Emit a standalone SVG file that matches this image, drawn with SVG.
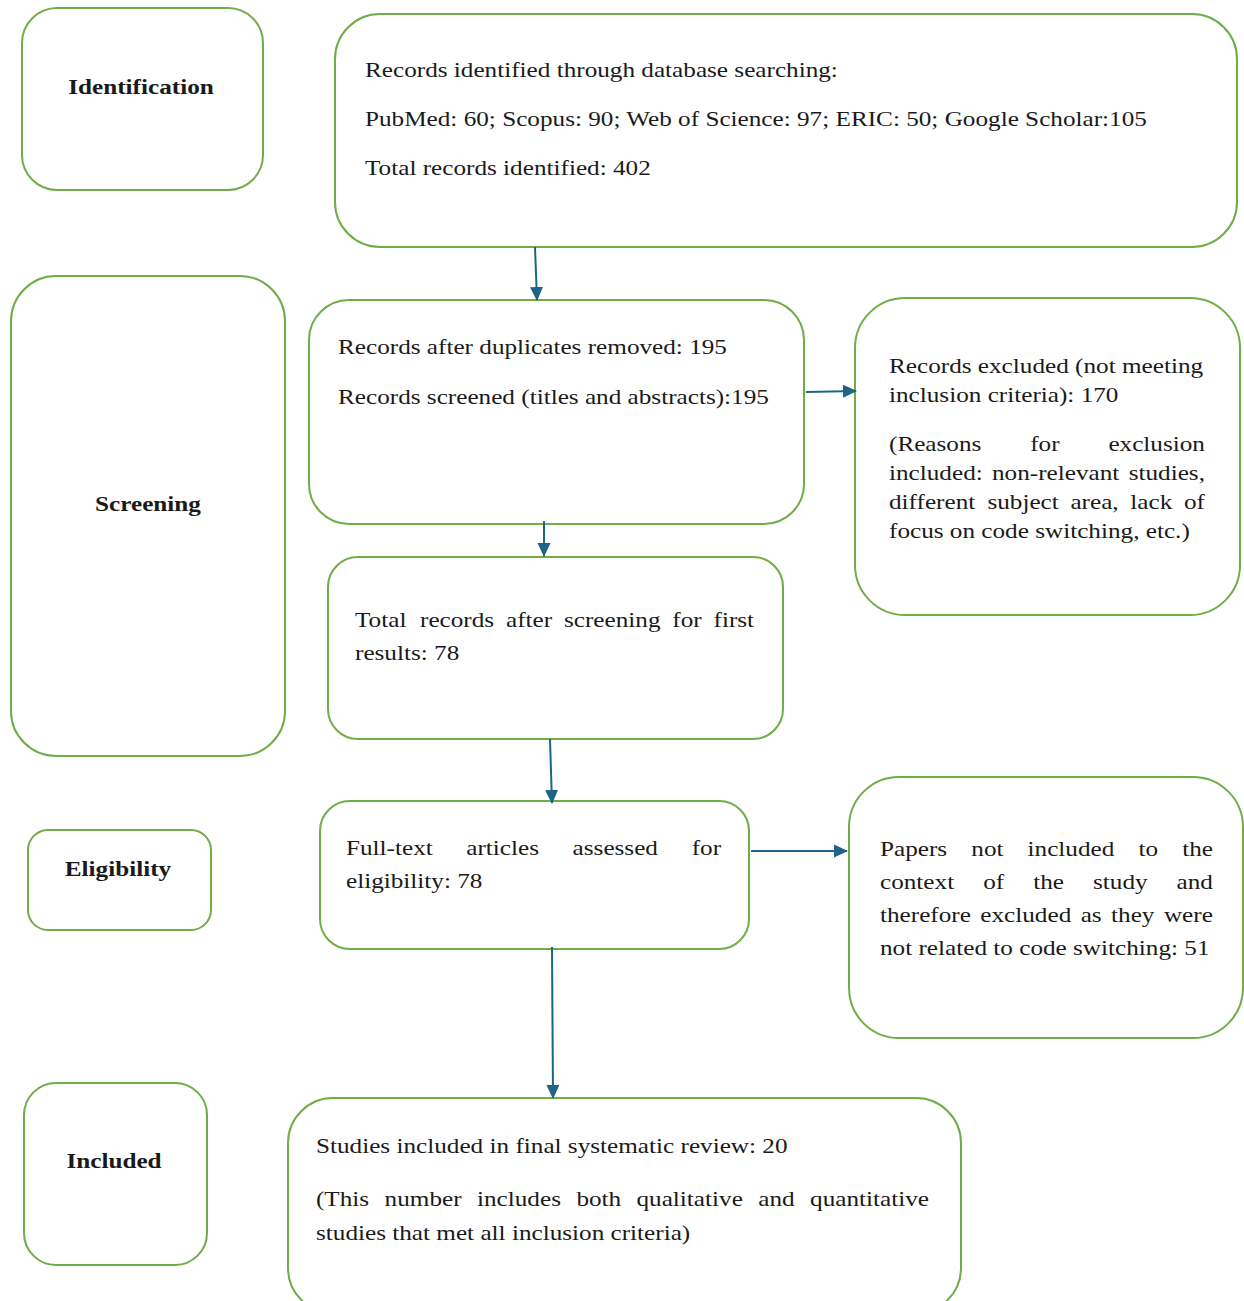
<svg xmlns="http://www.w3.org/2000/svg" width="1244" height="1301" viewBox="0 0 1244 1301">
<style>
.box{fill:#fff;stroke:#70ad47;stroke-width:2}
.t{font-family:"Liberation Serif","Times New Roman",serif;font-size:21px;fill:#1a1a1a}
.b{font-weight:bold;text-anchor:middle}
.c{fill:none;stroke:#1f6389;stroke-width:2}
</style>
<defs>
<marker id="ah" markerUnits="userSpaceOnUse" markerWidth="14" markerHeight="14" refX="13" refY="7" orient="auto">
<path d="M0,0.5 L14,7 L0,13.5 z" fill="#1f6389"/>
</marker>
</defs>
<rect width="1244" height="1301" fill="#fff"/>

<g id="stage-identification">
<rect class="box" x="22" y="8" width="241" height="182" rx="35"/>
<text class="t b" transform="scale(1.2,1)" x="117.5" y="94">Identification</text>
</g>
<g id="stage-screening">
<rect class="box" x="11" y="276" width="274" height="480" rx="45"/>
<text class="t b" transform="scale(1.2,1)" x="123.33" y="511">Screening</text>
</g>
<g id="stage-eligibility">
<rect class="box" x="28" y="830" width="183" height="100" rx="20"/>
<text class="t b" transform="scale(1.2,1)" x="98.33" y="876">Eligibility</text>
</g>
<g id="stage-included">
<rect class="box" x="24" y="1083" width="183" height="182" rx="32"/>
<text class="t b" transform="scale(1.2,1)" x="95" y="1168">Included</text>
</g>

<g id="identified">
<rect class="box" x="335" y="14" width="902" height="233" rx="45"/>
<text class="t" transform="scale(1.2,1)">
<tspan x="304.17" y="77">Records identified through database searching:</tspan>
<tspan x="304.17" y="126">PubMed: 60; Scopus: 90; Web of Science: 97; ERIC: 50; Google Scholar:105</tspan>
<tspan x="304.17" y="175">Total records identified: 402</tspan>
</text>
</g>

<g id="screened">
<rect class="box" x="309" y="300" width="495" height="224" rx="40"/>
<text class="t" transform="scale(1.2,1)">
<tspan x="281.67" y="354">Records after duplicates removed: 195</tspan>
<tspan x="281.67" y="404">Records screened (titles and abstracts):195</tspan>
</text>
</g>

<g id="excluded">
<rect class="box" x="855" y="298" width="385" height="317" rx="50"/>
<text class="t" transform="scale(1.2,1)">
<tspan x="740.83" y="373">Records excluded (not meeting</tspan>
<tspan x="740.83" y="402">inclusion criteria): 170</tspan>
<tspan x="740.83" y="451">(Reasons</tspan><tspan x="858.5" y="451">for</tspan><tspan x="923.67" y="451">exclusion</tspan>
<tspan x="740.83" y="480">included:</tspan><tspan x="826.67" y="480">non-relevant</tspan><tspan x="940.58" y="480">studies,</tspan>
<tspan x="740.83" y="509">different</tspan><tspan x="822.83" y="509">subject</tspan><tspan x="892" y="509">area,</tspan><tspan x="941.92" y="509">lack</tspan><tspan x="986.58" y="509">of</tspan>
<tspan x="740.83" y="538">focus on code switching, etc.)</tspan>
</text>
</g>

<g id="after-screening">
<rect class="box" x="328" y="557" width="455" height="182" rx="30"/>
<text class="t" transform="scale(1.2,1)">
<tspan x="295.83" y="627">Total</tspan><tspan x="350" y="627">records</tspan><tspan x="421.67" y="627">after</tspan><tspan x="470" y="627">screening</tspan><tspan x="560.25" y="627">for</tspan><tspan x="594.58" y="627">first</tspan>
<tspan x="295.83" y="660">results: 78</tspan>
</text>
</g>

<g id="full-text">
<rect class="box" x="320" y="801" width="429" height="148" rx="30"/>
<text class="t" transform="scale(1.2,1)">
<tspan x="288.33" y="855">Full-text</tspan><tspan x="388.58" y="855">articles</tspan><tspan x="477.17" y="855">assessed</tspan><tspan x="576.42" y="855">for</tspan>
<tspan x="288.33" y="888">eligibility: 78</tspan>
</text>
</g>

<g id="not-included">
<rect class="box" x="849" y="777" width="394" height="261" rx="50"/>
<text class="t" transform="scale(1.2,1)">
<tspan x="733.33" y="856">Papers</tspan><tspan x="809.42" y="856">not</tspan><tspan x="856.33" y="856">included</tspan><tspan x="948.75" y="856">to</tspan><tspan x="985.17" y="856">the</tspan>
<tspan x="733.33" y="889">context</tspan><tspan x="819.33" y="889">of</tspan><tspan x="861" y="889">the</tspan><tspan x="910.83" y="889">study</tspan><tspan x="980.5" y="889">and</tspan>
<tspan x="733.33" y="922">therefore</tspan><tspan x="816.92" y="922">excluded</tspan><tspan x="900.58" y="922">as</tspan><tspan x="925.92" y="922">they</tspan><tspan x="969.92" y="922">were</tspan>
<tspan x="733.33" y="955">not related to code switching: 51</tspan>
</text>
</g>

<g id="final">
<rect class="box" x="288" y="1098" width="673" height="215" rx="45"/>
<text class="t" transform="scale(1.2,1)">
<tspan x="263.33" y="1153">Studies included in final systematic review: 20</tspan>
<tspan x="263.33" y="1206">(This</tspan><tspan x="320.5" y="1206">number</tspan><tspan x="397.5" y="1206">includes</tspan><tspan x="480.33" y="1206">both</tspan><tspan x="530.42" y="1206">qualitative</tspan><tspan x="631.92" y="1206">and</tspan><tspan x="675.08" y="1206">quantitative</tspan>
<tspan x="263.33" y="1240">studies that met all inclusion criteria)</tspan>
</text>
</g>

<g id="connectors">
<line class="c" x1="535" y1="247" x2="537" y2="300" marker-end="url(#ah)"/>
<line class="c" x1="544" y1="521" x2="544" y2="556" marker-end="url(#ah)"/>
<line class="c" x1="550" y1="739" x2="552" y2="803" marker-end="url(#ah)"/>
<line class="c" x1="552" y1="947" x2="553" y2="1098" marker-end="url(#ah)"/>
<line class="c" x1="806" y1="392" x2="856" y2="391" marker-end="url(#ah)"/>
<line class="c" x1="751" y1="851" x2="847" y2="851" marker-end="url(#ah)"/>
</g>
</svg>
